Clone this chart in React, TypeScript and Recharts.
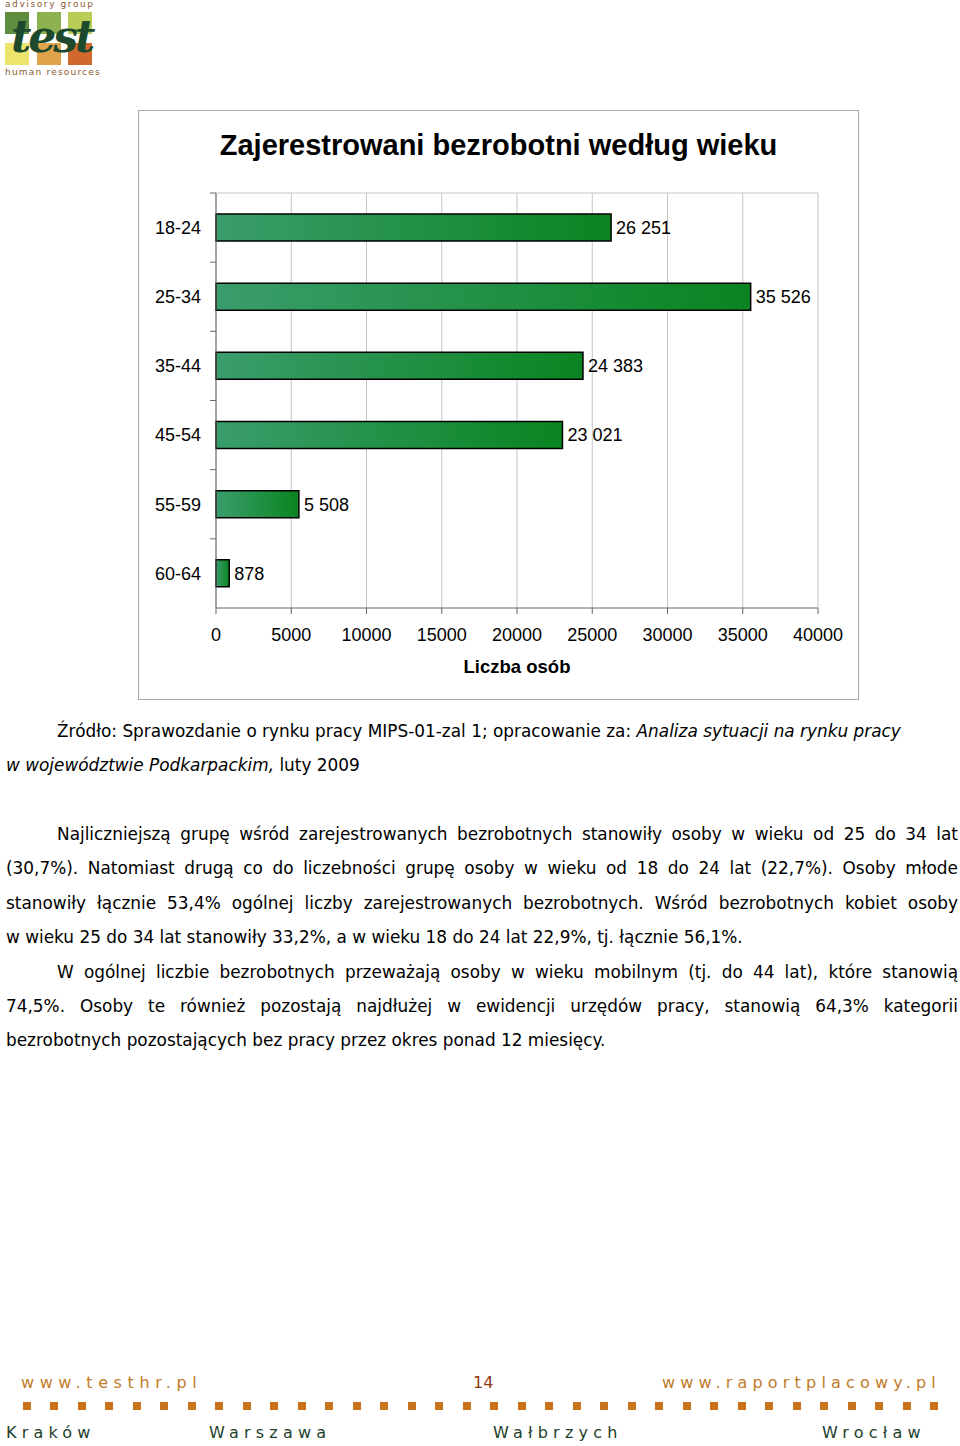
import React from "react";
import {
  BarChart,
  Bar,
  XAxis,
  YAxis,
  CartesianGrid,
  LabelList,
} from "recharts";

const ageGroups = ["18-24", "25-34", "35-44", "45-54", "55-59", "60-64"];
const registered = [26251, 35526, 24383, 23021, 5508, 878];
const xTicks = [0, 5000, 10000, 15000, 20000, 25000, 30000, 35000, 40000];

const chartTitle = "Zajerestrowani bezrobotni według wieku";
const xLabel = "Liczba osób";

const cities = [
  { name: "Kraków", left: 6 },
  { name: "Warszawa", left: 209 },
  { name: "Wałbrzych", left: 493 },
  { name: "Wrocław", left: 822 },
];

const data = ageGroups.map((g, i) => ({ age: g, value: registered[i] }));

const CHART_FONT = "'Liberation Sans', Arial, sans-serif";
const BODY_FONT = "'DejaVu Sans', Verdana, sans-serif";
const TICK_SIZE = 6;
const TICK_MARGIN = 9;

const withSpaces = (v: any) =>
  String(v).replace(/\B(?=(\d{3})+(?!\d))/g, " ");

// category tick: label at band centre, tick mark at band edge (Excel style)
const AgeTick = (props: any) => {
  const { x, y, payload } = props;
  const half = payload && payload.offset ? payload.offset : 0;
  return (
    <g>
      <line
        x1={x + TICK_MARGIN}
        x2={x + TICK_MARGIN + TICK_SIZE}
        y1={y - half}
        y2={y - half}
        stroke="#666"
      />
      <text
        x={x}
        y={y}
        dy="0.35em"
        textAnchor="end"
        fontSize={18}
        fontFamily={CHART_FONT}
        fill="#000"
      >
        {payload.value}
      </text>
    </g>
  );
};

const Logo = () => {
  const sq = (left: number, top: number, color: string) => (
    <div
      style={{
        position: "absolute",
        left,
        top,
        width: 24,
        height: 22,
        background: color,
      }}
    />
  );
  return (
    <div style={{ position: "absolute", left: 0, top: 0, width: 100, height: 80 }}>
      <div
        style={{
          position: "absolute",
          left: 5,
          top: -1,
          fontSize: 9,
          letterSpacing: 1.6,
          color: "#8a5a34",
          fontFamily: BODY_FONT,
          whiteSpace: "nowrap",
        }}
      >
        advisory group
      </div>
      {sq(5, 12, "#5f8c3e")}
      {sq(37, 12, "#8fb250")}
      {sq(68, 12, "#b7cd58")}
      {sq(5, 43, "#ece46c")}
      {sq(37, 43, "#e0a24a")}
      {sq(68, 43, "#d2692c")}
      <div
        style={{
          position: "absolute",
          left: 11,
          top: 14,
          fontSize: 44,
          lineHeight: "46px",
          fontWeight: "bold",
          fontStyle: "italic",
          color: "#1d4a2c",
          fontFamily: "'DejaVu Serif', serif",
          letterSpacing: -3,
        }}
      >
        test
      </div>
      <div
        style={{
          position: "absolute",
          left: 5,
          top: 67,
          fontSize: 9,
          letterSpacing: 1.2,
          color: "#8a5a34",
          fontFamily: BODY_FONT,
          whiteSpace: "nowrap",
        }}
      >
        human resources
      </div>
    </div>
  );
};

const line = (
  top: number,
  left: number,
  content: React.ReactNode,
  justify: boolean
) => (
  <div
    style={{
      position: "absolute",
      top: top - 12,
      left,
      width: 958 - left,
      height: 24,
      lineHeight: "24px",
      fontSize: 16.9,
      fontFamily: BODY_FONT,
      color: "#000",
      whiteSpace: "nowrap",
      textAlign: justify ? "justify" : "left",
      textAlignLast: justify ? "justify" : "left",
    }}
  >
    {content}
  </div>
);

export default function App() {
  return (
    <div
      style={{
        position: "absolute",
        left: 0,
        top: 0,
        width: 960,
        height: 1446,
        background: "#fff",
        overflow: "hidden",
      }}
    >
      <Logo />

      {/* chart frame */}
      <div
        style={{
          position: "absolute",
          left: 138,
          top: 110,
          width: 721,
          height: 590,
          border: "1px solid #a8a8a8",
          boxSizing: "border-box",
        }}
      />
      <div
        style={{
          position: "absolute",
          left: 138,
          top: 128,
          width: 721,
          textAlign: "center",
          fontFamily: CHART_FONT,
          fontWeight: "bold",
          fontSize: 29,
          lineHeight: "34px",
        }}
      >
        {chartTitle}
      </div>
      <div style={{ position: "absolute", left: 138, top: 110 }}>
        <BarChart
          width={720}
          height={589}
          data={data}
          layout="vertical"
          margin={{ top: 83, right: 40, bottom: 21, left: 8 }}
          barSize={27}
        >
          <defs>
            <linearGradient id="barGreen" x1="0" y1="0" x2="1" y2="0">
              <stop offset="0%" stopColor="#3a9d6c" />
              <stop offset="100%" stopColor="#0a8420" />
            </linearGradient>
          </defs>
          <CartesianGrid
            horizontal={true}
            vertical={true}
            stroke="#c4c4c4"
            horizontalCoordinatesGenerator={(p: any) => [p.offset.top]}
          />
          <XAxis
            type="number"
            domain={[0, 40000]}
            ticks={xTicks}
            interval={0}
            height={70}
            tickSize={TICK_SIZE}
            tickMargin={14}
            stroke="#666"
            tick={{ fontSize: 18, fontFamily: CHART_FONT, fill: "#000" }}
            label={{
              value: xLabel,
              position: "insideBottom",
              offset: 5,
              fontSize: 18.5,
              fontWeight: "bold",
              fontFamily: CHART_FONT,
              fill: "#000",
            }}
          />
          <YAxis
            type="category"
            dataKey="age"
            width={70}
            tickSize={TICK_SIZE}
            tickMargin={TICK_MARGIN}
            tickLine={false}
            stroke="#666"
            tick={<AgeTick />}
            interval={0}
          />
          <Bar
            dataKey="value"
            fill="url(#barGreen)"
            stroke="#000"
            strokeWidth={1.5}
            isAnimationActive={false}
          >
            <LabelList
              dataKey="value"
              position="right"
              offset={5}
              formatter={withSpaces}
              fontSize={18}
              fontFamily={CHART_FONT}
              fill="#000"
            />
          </Bar>
        </BarChart>
      </div>

      {/* source note */}
      {line(
        731,
        57,
        <>
          Źródło: Sprawozdanie o rynku pracy MIPS-01-zal 1; opracowanie za:{" "}
          <i>Analiza sytuacji na rynku pracy</i>
        </>,
        false
      )}
      {line(
        765,
        6,
        <>
          <i>w województwie Podkarpackim,</i> luty 2009
        </>,
        false
      )}

      {/* body text */}
      {line(
        834,
        57,
        "Najliczniejszą grupę wśród zarejestrowanych bezrobotnych stanowiły osoby w wieku od 25 do 34 lat",
        true
      )}
      {line(
        868,
        6,
        "(30,7%). Natomiast drugą co do liczebności grupę osoby w wieku od 18 do 24 lat (22,7%). Osoby młode",
        true
      )}
      {line(
        903,
        6,
        "stanowiły łącznie 53,4% ogólnej liczby zarejestrowanych bezrobotnych. Wśród bezrobotnych kobiet osoby",
        true
      )}
      {line(
        937,
        6,
        "w wieku 25 do 34 lat stanowiły 33,2%, a w wieku 18 do 24 lat 22,9%, tj. łącznie 56,1%.",
        false
      )}
      {line(
        972,
        57,
        "W ogólnej liczbie bezrobotnych przeważają osoby w wieku mobilnym (tj. do 44 lat), które stanowią",
        true
      )}
      {line(
        1006,
        6,
        "74,5%. Osoby te również pozostają najdłużej w ewidencji urzędów pracy, stanowią 64,3% kategorii",
        true
      )}
      {line(
        1040,
        6,
        "bezrobotnych pozostających bez pracy przez okres ponad 12 miesięcy.",
        false
      )}

      {/* footer */}
      <div
        style={{
          position: "absolute",
          left: 21,
          top: 1372,
          fontSize: 16,
          lineHeight: "22px",
          letterSpacing: 5.6,
          color: "#c17b2a",
          fontFamily: BODY_FONT,
          whiteSpace: "nowrap",
        }}
      >
        www.testhr.pl
      </div>
      <div
        style={{
          position: "absolute",
          left: 473,
          top: 1372,
          fontSize: 16,
          lineHeight: "22px",
          color: "#8a3a14",
          fontFamily: BODY_FONT,
        }}
      >
        14
      </div>
      <div
        style={{
          position: "absolute",
          left: 662,
          top: 1372,
          fontSize: 16,
          lineHeight: "22px",
          letterSpacing: 5.2,
          color: "#c17b2a",
          fontFamily: BODY_FONT,
          whiteSpace: "nowrap",
        }}
      >
        www.raportplacowy.pl
      </div>
      <div
        style={{
          position: "absolute",
          left: 23,
          top: 1402,
          width: 915,
          height: 8,
          display: "flex",
          justifyContent: "space-between",
        }}
      >
        {Array.from({ length: 34 }).map((_, i) => (
          <div key={i} style={{ width: 8, height: 8, background: "#c8741c" }} />
        ))}
      </div>
      {cities.map((c) => (
        <div
          key={c.name}
          style={{
            position: "absolute",
            left: c.left,
            top: 1422,
            fontSize: 16,
            lineHeight: "22px",
            letterSpacing: 5.2,
            color: "#1e3f2c",
            fontFamily: BODY_FONT,
            whiteSpace: "nowrap",
          }}
        >
          {c.name}
        </div>
      ))}
    </div>
  );
}
